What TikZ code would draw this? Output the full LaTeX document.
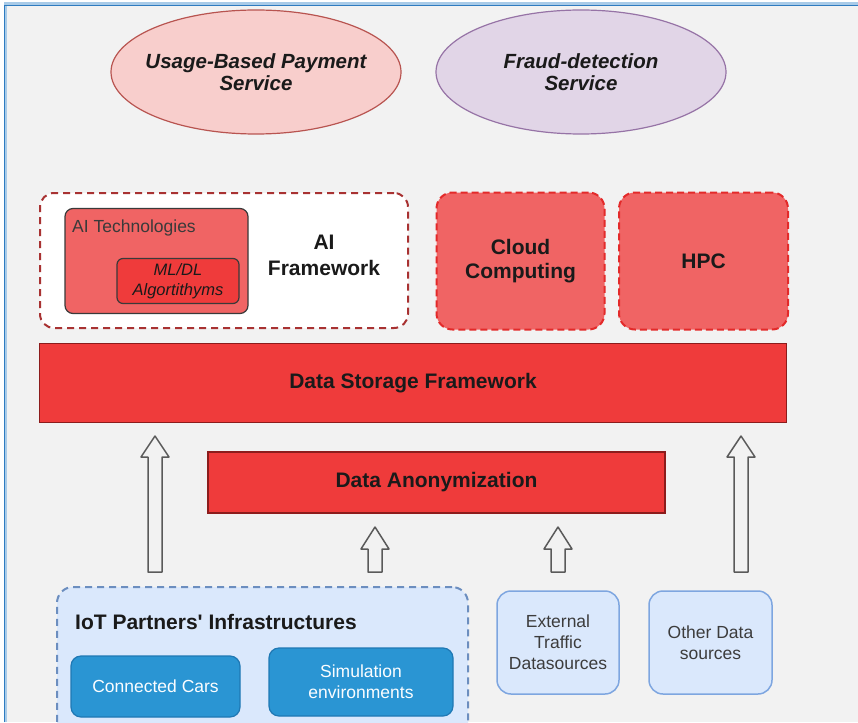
\documentclass[tikz,border=0pt]{standalone}
\usepackage{fontspec}
\setmainfont{Liberation Sans}
\usetikzlibrary{shapes.geometric}

\definecolor{PageGray}{HTML}{F2F2F2}
\definecolor{FrameBlue}{HTML}{2E7BC0}
\definecolor{FrameLight}{HTML}{A9CBE8}
\definecolor{TextDark}{HTML}{1A1A1A}
\definecolor{PayFill}{HTML}{F8CECC}
\definecolor{PayLine}{HTML}{B85450}
\definecolor{FraudFill}{HTML}{E1D5E7}
\definecolor{FraudLine}{HTML}{9673A6}
\definecolor{FrameDash}{HTML}{A83232}
\definecolor{RedSoft}{HTML}{F06464}
\definecolor{RedDash}{HTML}{E32A2A}
\definecolor{RedStrong}{HTML}{EF3B3B}
\definecolor{RedEdge}{HTML}{8C1C1C}
\definecolor{TechEdge}{HTML}{3A3A3A}
\definecolor{BlueSoft}{HTML}{DAE8FC}
\definecolor{BlueEdge}{HTML}{7EA6E0}
\definecolor{BlueDash}{HTML}{6C8EBF}
\definecolor{BlueStrong}{HTML}{2A95D3}
\definecolor{BlueStrongEdge}{HTML}{1F78B4}
\definecolor{ArrowGray}{HTML}{5A5A5A}

\newcommand{\boldtext}{\bfseries\fontsize{21}{24}\selectfont}
\newcommand{\plaintext}{\fontsize{17.5}{21}\selectfont}

\tikzset{
  service/.style={ellipse, line width=1.2pt, minimum width=290, minimum height=124,
    inner xsep=-16pt, inner ysep=0pt, align=center, text=TextDark,
    font=\bfseries\itshape\fontsize{20.5}{22}\selectfont},
  layer/.style={rectangle, inner sep=0pt, align=center, text=TextDark},
  redtile/.style={layer, fill=RedSoft, draw=RedDash, line width=2pt,
    dash pattern=on 7pt off 4pt, rounded corners=16pt, font=\boldtext},
  redbar/.style={layer, fill=RedStrong, draw=RedEdge, line width=1.5pt, font=\boldtext},
  sourcebox/.style={layer, fill=BlueSoft, draw=BlueEdge, line width=1.5pt,
    rounded corners=14pt, text=TextDark!85, font=\plaintext},
  partnerbox/.style={layer, fill=BlueStrong, draw=BlueStrongEdge, line width=1.2pt,
    rounded corners=10pt, text=white!90!BlueSoft, font=\plaintext},
  hollowarrow/.style={draw=ArrowGray, fill=PageGray, line width=1.5pt, line join=round}
}

\begin{document}
\begin{tikzpicture}[x=1pt,y=-1pt]
  % ===== Lienzo =====
  \useasboundingbox (0,0) rectangle (858,722);
  \clip (0,0) rectangle (858,722);
  \fill[white] (0,0) rectangle (858,722);
  \fill[PageGray] (4,5) rectangle (858,722);
  \draw[FrameLight, line width=3pt] (5.5,722) -- (5.5,4) -- (858,4);
  \draw[FrameBlue, line width=1.5pt] (4.5,722) -- (4.5,5.5) -- (858,5.5);

  % ===== Servicios =====
  \node[service, fill=PayFill, draw=PayLine]     (payment) at (256,72) {Usage-Based Payment\\Service};
  \node[service, fill=FraudFill, draw=FraudLine] (fraud)   at (581,72) {Fraud-detection\\Service};

  % ===== AI Framework =====
  \node[layer, fill=white, draw=FrameDash, line width=2pt, dash pattern=on 7pt off 5pt,
        rounded corners=14pt, minimum width=368, minimum height=135] (aiframe) at (224,260.5) {};
  \node[layer, fill=RedSoft, draw=TechEdge, line width=1.2pt, rounded corners=8pt,
        minimum width=183, minimum height=105] (aitech) at (156.5,261) {};
  \node[layer, anchor=west, text=TechEdge, font=\plaintext] (aitechlbl) at (72,228) {AI Technologies};
  \node[layer, fill=RedStrong, draw=TechEdge, line width=1.2pt, rounded corners=6pt,
        minimum width=122, minimum height=45, font=\itshape\fontsize{16.5}{20}\selectfont]
        (mldl) at (178,281) {ML/DL\\Algortithyms};
  \node[layer, font=\boldtext, text depth=0pt] (ailbl) at (324,255) {AI\\[2pt]Framework};

  % ===== Cloud / HPC =====
  \node[redtile, minimum width=168, minimum height=137] (cloud) at (520.5,261) {Cloud\\Computing};
  \node[redtile, minimum width=169, minimum height=137] (hpc)   at (703.5,261) {HPC};

  % ===== Almacenamiento y anonimizacion =====
  \node[redbar, minimum width=747, minimum height=79] (storage) at (413,383) {Data Storage Framework};
  \node[redbar, minimum width=457, minimum height=61] (anon)    at (436.5,482.5) {Data Anonymization};

  % ===== Fuentes de datos =====
  \node[layer, fill=BlueSoft, draw=BlueDash, line width=2pt, dash pattern=on 7pt off 5pt,
        rounded corners=16pt, minimum width=411, minimum height=160] (iot) at (262.5,667) {};
  \node[layer, anchor=west, font=\boldtext] (iotlbl) at (75,622) {IoT Partners\textquotesingle\ Infrastructures};
  \node[partnerbox, minimum width=169, minimum height=61] (cars) at (155.5,686.5) {Connected Cars};
  \node[partnerbox, minimum width=184, minimum height=68] (sim)  at (361,682) {Simulation\\environments};
  \node[sourcebox, minimum width=122, minimum height=103] (ext)   at (558,642.5) {External\\Traffic\\Datasources};
  \node[sourcebox, minimum width=123, minimum height=103] (other) at (710.5,642.5) {Other Data\\sources};

  % ===== Flechas huecas (x / punta / base cabeza / cola) =====
  \foreach \x/\tip/\hb/\tail in {155/436/457/572, 741/436/457/572, 375/527/549/572, 558/527/549/572}{
    \draw[hollowarrow] (\x-7,\tail) -- (\x-7,\hb) -- (\x-14,\hb) -- (\x,\tip)
      -- (\x+14,\hb) -- (\x+7,\hb) -- (\x+7,\tail) -- cycle;
  }

\end{tikzpicture}
\end{document}
